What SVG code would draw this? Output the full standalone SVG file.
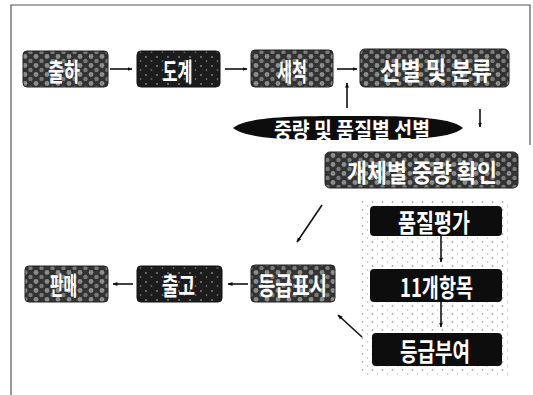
<svg xmlns="http://www.w3.org/2000/svg" width="533" height="395" viewBox="0 0 533 395">
<style>
.frame{stroke:#555;stroke-width:1.2;fill:none}
.lbl{font-family:"Noto Sans CJK KR","Noto Sans",sans-serif;font-weight:bold;font-size:25px;fill:#fff;text-anchor:middle;dominant-baseline:central}
.con{stroke:#111;stroke-width:1.6;fill:none;marker-end:url(#ah)}
.spot{fill:url(#spots);stroke:#222;stroke-width:1}
.dark{fill:url(#sparse);stroke:#111;stroke-width:1}
.solid{fill:#0d0d0d}
</style>
<defs>
<pattern id="spots" width="11" height="9" patternUnits="userSpaceOnUse">
<rect width="11" height="9" fill="#333"/>
<circle cx="3" cy="2.5" r="2.4" fill="#8c8c8c"/>
<circle cx="8.5" cy="7" r="2.2" fill="#7a7a7a"/>
</pattern>
<pattern id="sparse" width="11" height="9" patternUnits="userSpaceOnUse">
<rect width="11" height="9" fill="#1c1c1c"/>
<circle cx="3" cy="3" r="1.1" fill="#777"/>
<circle cx="8.5" cy="7" r="0.9" fill="#666"/>
</pattern>
<pattern id="stip" width="10" height="8" patternUnits="userSpaceOnUse">
<rect width="10" height="8" fill="#fff"/>
<circle cx="2.5" cy="2" r="0.9" fill="#aaa"/>
<circle cx="7.5" cy="6" r="0.7" fill="#bbb"/>
</pattern>
<marker id="ah" viewBox="0 0 10 10" refX="9" refY="5" markerWidth="5" markerHeight="5" orient="auto" markerUnits="userSpaceOnUse">
<path d="M0,1 L10,5 L0,9 Z" fill="#111"/>
</marker>
</defs>
<rect width="533" height="395" fill="#fff"/>
<g id="frame">
<path class="frame" d="M11,395 L11,5 L530,5 L530,145"/>
</g>
<g id="panel">
<rect x="358" y="200" width="150" height="175" fill="url(#stip)"/>
</g>
<g id="connectors">
<line class="con" x1="110" y1="69" x2="132" y2="69"/>
<line class="con" x1="225" y1="69" x2="247" y2="69"/>
<line class="con" x1="337" y1="69" x2="357" y2="69"/>
<line class="con" x1="347" y1="108" x2="347" y2="83"/>
<line class="con" x1="480" y1="109" x2="480" y2="127"/>
<line class="con" x1="322" y1="205" x2="297" y2="242"/>
<line class="con" x1="441" y1="236" x2="441" y2="262"/>
<line class="con" x1="441" y1="302" x2="441" y2="327"/>
<line class="con" x1="362" y1="337" x2="338" y2="315"/>
<line class="con" x1="248" y1="284" x2="228" y2="284"/>
<line class="con" x1="133" y1="284" x2="113" y2="284"/>
</g>
<g id="n-chulha">
<rect class="spot" x="23" y="51" width="85" height="36" rx="4"/>
<text class="lbl" x="64" y="70" textLength="32" lengthAdjust="spacingAndGlyphs">출하</text>
</g>
<g id="n-dogye">
<rect class="dark" x="137" y="51" width="83" height="36" rx="4"/>
<text class="lbl" x="177.5" y="70" textLength="30" lengthAdjust="spacingAndGlyphs">도계</text>
</g>
<g id="n-secheok">
<rect class="spot" x="251" y="50" width="82" height="37" rx="4"/>
<text class="lbl" x="292" y="70" textLength="30" lengthAdjust="spacingAndGlyphs">세척</text>
</g>
<g id="n-seonbyeol">
<rect class="spot" x="360" y="49" width="149" height="38" rx="5"/>
<text class="lbl" x="436" y="69" textLength="112" lengthAdjust="spacingAndGlyphs">선별 및 분류</text>
</g>
<g id="n-ellipse">
<path d="M233,128 C248,116 300,116 349,116 C400,116 450,116 463,128 C450,140 400,140 349,140 C300,140 248,140 233,128 Z" fill="#0d0d0d"/>
<text class="lbl" x="352" y="128" textLength="156" lengthAdjust="spacingAndGlyphs" style="font-size:22px">중량 및 품질별 선별</text>
</g>
<g id="n-gaeche">
<rect class="spot" x="325" y="152" width="193" height="36" rx="5"/>
<text class="lbl" x="422" y="171" textLength="150" lengthAdjust="spacingAndGlyphs">개체별 중량 확인</text>
</g>
<g id="n-pumjil">
<rect class="solid" x="370" y="206" width="132" height="30" rx="4"/>
<text class="lbl" x="434" y="221" textLength="72" lengthAdjust="spacingAndGlyphs">품질평가</text>
</g>
<g id="n-11">
<rect class="solid" x="370" y="269" width="132" height="33" rx="4"/>
<text class="lbl" x="436.5" y="286" textLength="73" lengthAdjust="spacingAndGlyphs">11개항목</text>
</g>
<g id="n-deunggeupbuyeo">
<rect class="solid" x="372" y="333" width="130" height="33" rx="4"/>
<text class="lbl" x="435" y="350" textLength="70" lengthAdjust="spacingAndGlyphs">등급부여</text>
</g>
<g id="n-deunggeuppyosi">
<rect class="spot" x="251" y="265" width="84" height="37" rx="4"/>
<text class="lbl" x="292.5" y="284" textLength="69" lengthAdjust="spacingAndGlyphs">등급표시</text>
</g>
<g id="n-chulgo">
<rect class="dark" x="137" y="266" width="85" height="36" rx="4"/>
<text class="lbl" x="178.5" y="284" textLength="33" lengthAdjust="spacingAndGlyphs">출고</text>
</g>
<g id="n-panmae">
<rect class="spot" x="25" y="266" width="83" height="36" rx="4"/>
<text class="lbl" x="63.5" y="284" textLength="27" lengthAdjust="spacingAndGlyphs">판매</text>
</g>
</svg>
